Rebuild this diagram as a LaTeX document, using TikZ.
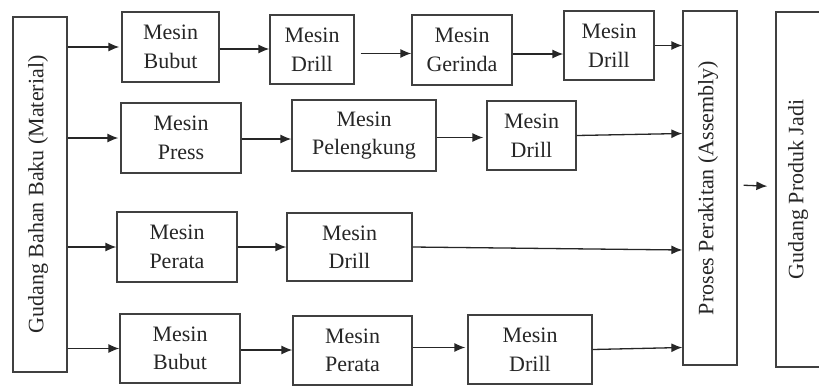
\documentclass[tikz,border=0pt]{standalone}
\usepackage{fontspec}
\setmainfont{Liberation Serif}
\usetikzlibrary{arrows.meta}
\begin{document}
\begin{tikzpicture}[x=1pt,y=-1pt,
  lbl/.style={font=\fontsize{22}{28.5}\selectfont, text=black!85, align=center},
  box/.style={draw=black!75, line width=1.3pt, fill=white, inner sep=0pt, lbl},
  vtext/.style={lbl, rotate=90, inner sep=0pt},
  arr/.style={draw=black!85, line width=1.3pt, -{Latex[length=11pt,width=9pt]}}]
\useasboundingbox (0,0) rectangle (819,386);
% tall boxes
\node[box, minimum width=54, minimum height=355] (gbb) at (40,194.5) {};
\node[vtext] (gbbt) at ([xshift=-2pt]gbb.center) {Gudang Bahan Baku (Material)};
\node[box, minimum width=54, minimum height=354] (proses) at (710,188) {};
\node[vtext] (prosest) at ([xshift=-2pt]proses.center) {Proses Perakitan (Assembly)};
\node[box, minimum width=50, minimum height=355] (produk) at (801,189.5) {};
\node[vtext] (produkt) at ([xshift=-3pt]produk.center) {Gudang Produk Jadi};
% row 1
\node[box, minimum width=97, minimum height=70] (bubut1) at (170.5,47) {Mesin\\Bubut};
\node[box, minimum width=84, minimum height=69] (drill1) at (312,49.5) {Mesin\\Drill};
\node[box, minimum width=100, minimum height=70] (gerinda) at (462,50) {Mesin\\Gerinda};
\node[box, minimum width=90, minimum height=69] (drill1b) at (609,45.5) {Mesin\\Drill};
% row 2
\node[box, minimum width=120, minimum height=70] (press) at (181,138) {Mesin\\Press};
\node[box, minimum width=144, minimum height=71] (pelengkung) at (364,135.5) {Mesin\\Pelengkung};
\node[box, minimum width=89, minimum height=69] (drill2) at (531.5,135.5) {Mesin\\Drill};
% row 3
\node[box, minimum width=120, minimum height=70] (perata3) at (177,247) {Mesin\\Perata};
\node[box, minimum width=125, minimum height=68] (drill3) at (349.5,247) {Mesin\\Drill};
% row 4
\node[box, minimum width=120, minimum height=69] (bubut4) at (180,348.5) {Mesin\\Bubut};
\node[box, minimum width=119, minimum height=69] (perata4) at (352.5,350.5) {Mesin\\Perata};
\node[box, minimum width=124, minimum height=69] (drill4) at (530,349.5) {Mesin\\Drill};
% connectors from warehouse
\draw[arr, shorten >=2pt] (gbb.east |- bubut1.west) -- (bubut1.west);
\draw[arr, shorten >=2pt] (gbb.east |- press.west) -- (press.west);
\draw[arr] (gbb.east |- perata3.west) -- (perata3.west);
\draw[arr] (gbb.east |- bubut4.west) -- (bubut4.west);
% row connectors
\draw[arr] ([yshift=-2pt]bubut1.east) -- ([yshift=-2pt]bubut1.east -| drill1.west);
\draw[arr, shorten <=6pt] ([yshift=-4pt]drill1.east) -- ([yshift=-4pt]drill1.east -| gerinda.west);
\draw[arr] ([yshift=-4pt]gerinda.east) -- ([yshift=-4pt]gerinda.east -| drill1b.west);
\draw[arr] (drill1b.east) -- (proses.west |- drill1b.east);
\draw[arr] ([yshift=-1pt]press.east) -- ([yshift=-1pt]press.east -| pelengkung.west);
\draw[arr, shorten >=3pt] ([yshift=-2pt]pelengkung.east) -- ([yshift=-2pt]pelengkung.east -| drill2.west);
\draw[arr] (drill2.east) -- ([yshift=2pt]proses.west |- drill2.east);
\draw[arr] (perata3.east) -- (perata3.east -| drill3.west);
\draw[arr] (drill3.east) -- ([yshift=-3pt]proses.west |- drill3.east);
\draw[arr] ([yshift=-1.5pt]bubut4.east) -- ([yshift=-1.5pt]bubut4.east -| perata4.west);
\draw[arr, shorten >=2pt] ([yshift=3pt]perata4.east) -- ([yshift=3pt]perata4.east -| drill4.west);
\draw[arr] (drill4.east) -- ([yshift=2pt]proses.west |- drill4.east);
\draw[arr, shorten <=6pt, shorten >=8pt] ([yshift=3pt]proses.east) -- ([yshift=3pt]produk.west);
\end{tikzpicture}
\end{document}
